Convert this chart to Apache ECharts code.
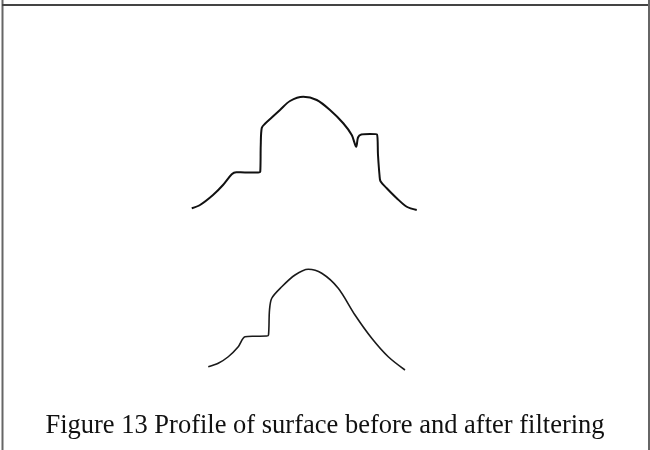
<!DOCTYPE html>
<html>
<head>
<meta charset="utf-8">
<script src="https://cdn.jsdelivr.net/npm/echarts@6/dist/echarts.min.js"></script>
<style>
html,body{margin:0;padding:0;background:#fff;}
#chart{width:650px;height:450px;}
</style>
</head>
<body>
<div id="chart"></div>
<script>
// Profile before filtering: [position, height]
const beforeX = [4.7, 8, 13.2, 17.2, 20.7, 22.5, 26, 31.3, 32.1, 32.3, 32.7, 34, 36.7, 40, 44, 49.3, 54.7, 60, 65.3, 68.7, 70.5, 71.2, 72.5, 76, 78.8, 79.2, 79.8, 80.2, 82.7, 86.7, 90.7, 94.7];
const beforeY = [4.7, 6, 10, 14, 18.3, 19.1, 19.0, 19.0, 19.3, 30, 36.8, 38.5, 41, 44, 47.6, 49.3, 48, 44, 38.7, 34, 29.3, 33, 34.2, 34.4, 34.2, 26, 18, 15.5, 12.7, 8.7, 5.3, 4];
// Profile after filtering
const afterX = [11.3, 15.3, 19.3, 23.3, 26, 30, 34.7, 35.4, 35.8, 36.7, 40.7, 46, 51.3, 56.7, 63.3, 70, 76.7, 83.3, 90];
const afterY = [9.3, 10.7, 13.3, 17.3, 21.3, 21.5, 21.6, 22, 32, 36.7, 41.3, 46, 48.3, 46.7, 40.7, 30, 20.7, 13.3, 8];
const caption = 'Figure 13 Profile of surface before and after filtering';

const zip = (xs, ys) => xs.map((x, i) => [x, ys[i]]);
const chart = echarts.init(document.getElementById('chart'), null, {renderer: 'canvas'});
const axX = (i) => ({type: 'value', gridIndex: i, min: 0, max: 100, show: false});
const axY = (i) => ({type: 'value', gridIndex: i, min: 0, max: 56, show: false});
chart.setOption({
  backgroundColor: '#fff',
  animation: false,
  title: {
    text: caption, left: 'center', top: 408,
    textStyle: {fontFamily: 'Liberation Serif', fontSize: 26.5, fontWeight: 'normal', color: '#111'}
  },
  grid: [
    {left: 180, width: 250, top: 80, height: 140},
    {left: 180, width: 250, top: 250, height: 140}
  ],
  xAxis: [axX(0), axX(1)],
  yAxis: [axY(0), axY(1)],
  graphic: [
    {type: 'line', shape: {x1: 2.5, y1: 0, x2: 2.5, y2: 450}, style: {stroke: '#666', lineWidth: 2}},
    {type: 'line', shape: {x1: 2, y1: 5, x2: 650, y2: 5}, style: {stroke: '#444', lineWidth: 2}},
    {type: 'line', shape: {x1: 649, y1: 0, x2: 649, y2: 450}, style: {stroke: '#666', lineWidth: 2}}
  ],
  series: [
    {type: 'line', xAxisIndex: 0, yAxisIndex: 0, data: zip(beforeX, beforeY), showSymbol: false, smooth: 0.3,
     lineStyle: {color: '#111', width: 2}},
    {type: 'line', xAxisIndex: 1, yAxisIndex: 1, data: zip(afterX, afterY), showSymbol: false, smooth: 0.3,
     lineStyle: {color: '#1a1a1a', width: 1.6}}
  ]
});
</script>
</body>
</html>
